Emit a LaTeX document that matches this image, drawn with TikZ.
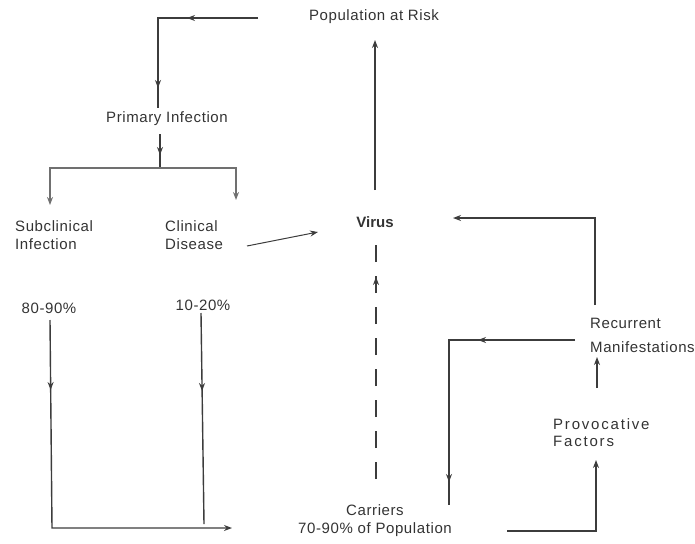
\documentclass[tikz,border=0pt]{standalone}
\usepackage{fontspec}
\setmainfont{Liberation Sans}
\usetikzlibrary{arrows.meta,decorations.markings}
\definecolor{txt}{HTML}{333333}
\definecolor{lncol}{HTML}{3C3C3C}
\definecolor{lgray}{HTML}{707070}
\begin{document}
\begin{tikzpicture}[x=1pt,y=-1pt,
  lbl/.style={font=\fontsize{15}{18}\selectfont\addfontfeature{LetterSpace=4}, text=txt, inner sep=0pt},
  ln/.style={draw=lncol, line width=1.4pt},
  tip/.style={-{Stealth[length=8pt,width=6pt]}},
  midarr/.style={postaction={decorate, decoration={markings, mark=at position #1 with {\arrow{Stealth[length=8pt,width=6pt]}}}}}
]
\useasboundingbox (0,0) rectangle (695,543);

% nodes
\node[lbl] (pop) at (374,17) {Population at Risk};
\node[lbl] (prim) at (167,119) {Primary Infection};
\node[lbl, align=left, anchor=west] (sub) at (15,235) {Subclinical\\Infection};
\node[lbl, align=left, anchor=west] (clin) at (165,235) {Clinical\\Disease};
\node[lbl, font=\fontsize{15}{18}\selectfont\bfseries] (virus) at (375,222) {Virus};
\node[lbl] (p80) at (49,308) {80-90\%};
\node[lbl] (p10) at (203,305) {10-20\%};
\node[lbl, align=center] (carr) at (375,521) {Carriers\\70-90\% of Population};
\node[lbl, align=left, anchor=west, font=\fontsize{15}{24}\selectfont\addfontfeature{LetterSpace=4}] (rec) at (590,335) {Recurrent\\Manifestations};
\node[lbl, align=left, anchor=west, font=\fontsize{15}{17}\selectfont\addfontfeature{LetterSpace=12}] (prov) at (553,433) {Provocative\\Factors};

% coordinates
\coordinate (t1) at (258,18);
\coordinate (t2) at (158,18);
\coordinate (t3) at (158,108);
\coordinate (pa) at (160,134);
\coordinate (j) at (160,168);
\coordinate (b1) at (50,205);
\coordinate (b2) at (236,200);
\coordinate (ca) at (247,246);
\coordinate (cb) at (318,232);
\coordinate (va) at (375,190);
\coordinate (vb) at (375,40);
\coordinate (da) at (376,485);
\coordinate (db) at (376,245);
\coordinate (r1) at (595,305);
\coordinate (r2) at (595,218);
\coordinate (r3) at (453,218);
\coordinate (s1) at (575,340);
\coordinate (s2) at (449,340);
\coordinate (s3) at (449,505);
\coordinate (q1) at (597,388);
\coordinate (q2) at (597,357);
\coordinate (u1) at (507,531);
\coordinate (u2) at (596,531);
\coordinate (u3) at (596,460);
\coordinate (e1) at (50,320);
\coordinate (e2) at (52,528);
\coordinate (e3) at (232,528);
\coordinate (f1) at (201,313);
\coordinate (f2) at (204,524);

% connectors
\draw[ln, midarr=71pt, midarr=170pt] (t1) -- (t2) -- (t3);
\draw[ln, midarr=21pt] (pa) -- (j);
\draw[ln, draw=lgray, tip] (j) -| (b1);
\draw[ln, draw=lgray, tip] (j) -| (b2);
\draw[ln, line width=1pt, tip] (ca) -- (cb);
\draw[ln, tip] (va) -- (vb);
\draw[ln, dash pattern=on 17pt off 14pt, dash phase=25pt, midarr=208pt] (da) -- (db);
\draw[ln, tip] (r1) -- (r2) -- (r3);
\draw[ln, midarr=97pt, midarr=268pt] (s1) -- (s2) -- (s3);
\draw[ln, tip] (q1) -- (q2);
\draw[ln, tip] (u1) -- (u2) -- (u3);
\draw[ln, midarr=70pt, tip] (e1) -- (e2) -- (e3);
\draw[ln, midarr=78pt] (f1) -- (f2);
\end{tikzpicture}
\end{document}
